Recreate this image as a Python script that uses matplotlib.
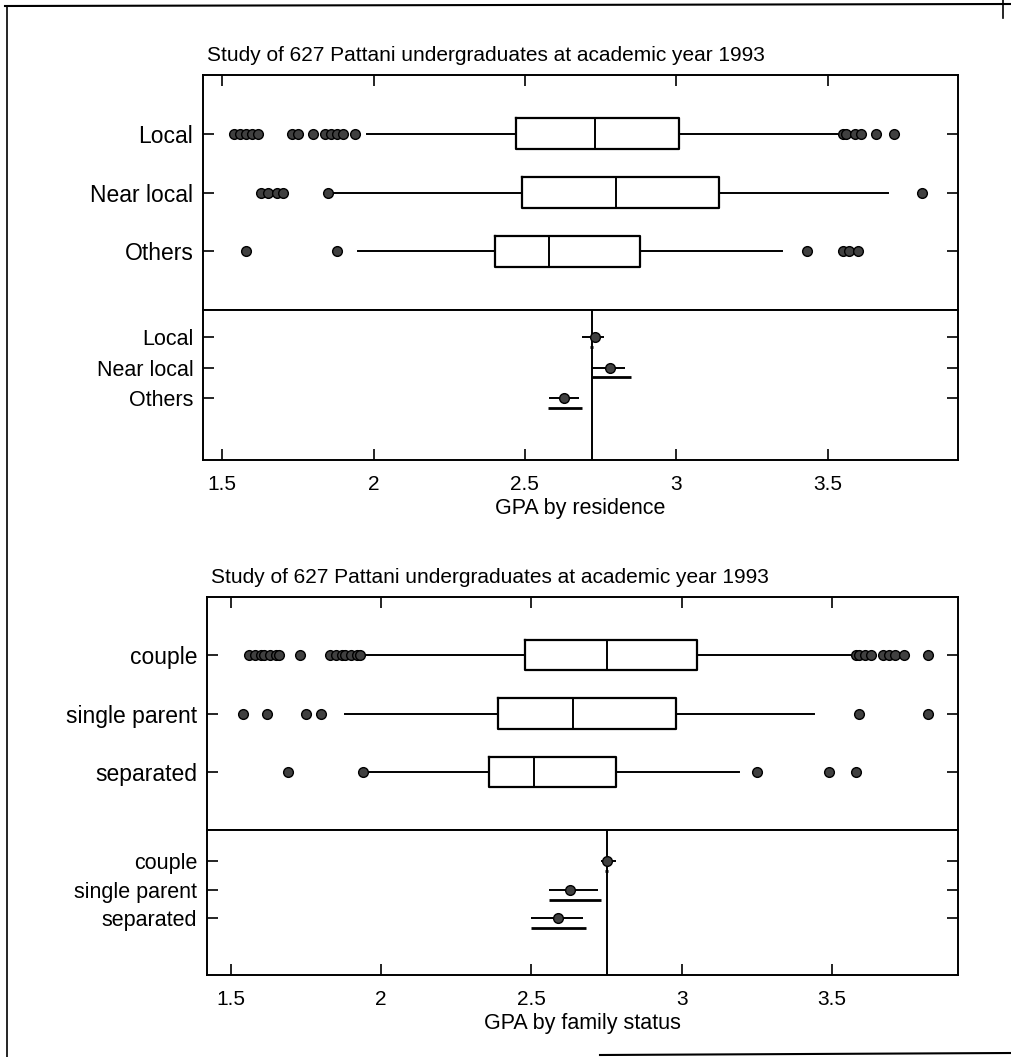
import matplotlib
matplotlib.use('Agg')
import matplotlib.pyplot as plt
from matplotlib.lines import Line2D

plt.rcParams['font.family'] = ['Liberation Sans', 'DejaVu Sans']

W, H = 1011, 1057
title = 'Study of 627 Pattani undergraduates at academic year 1993'

# --- GPA by residence ---
res_groups = ['Local', 'Near local', 'Others']
res_q1 = [2.47, 2.49, 2.40]
res_med = [2.73, 2.80, 2.58]
res_q3 = [3.01, 3.14, 2.88]
res_whislo = [1.98, 1.86, 1.95]
res_whishi = [3.53, 3.70, 3.35]
res_fliers = [
    [1.54, 1.56, 1.58, 1.60, 1.62, 1.73, 1.75, 1.80, 1.84, 1.86, 1.88, 1.90, 1.94,
     3.55, 3.56, 3.59, 3.61, 3.66, 3.72],
    [1.63, 1.65, 1.68, 1.70, 1.85, 3.81],
    [1.58, 1.88, 3.43, 3.55, 3.57, 3.60],
]
res_mean = [2.73, 2.78, 2.63]
res_ci_lo = [2.69, 2.72, 2.58]
res_ci_hi = [2.76, 2.83, 2.68]
res_ci2_lo = [2.715, 2.72, 2.575]
res_ci2_hi = [2.725, 2.85, 2.69]
res_grand = 2.72

# --- GPA by family status ---
fam_groups = ['couple', 'single parent', 'separated']
fam_q1 = [2.48, 2.39, 2.36]
fam_med = [2.75, 2.64, 2.51]
fam_q3 = [3.05, 2.98, 2.78]
fam_whislo = [1.95, 1.88, 1.94]
fam_whishi = [3.56, 3.44, 3.19]
fam_fliers = [
    [1.56, 1.58, 1.60, 1.61, 1.63, 1.65, 1.66, 1.73, 1.83, 1.85, 1.87, 1.88, 1.90,
     1.92, 1.93, 3.58, 3.59, 3.61, 3.63, 3.67, 3.69, 3.71, 3.74, 3.82],
    [1.54, 1.62, 1.75, 1.80, 3.59, 3.82],
    [1.69, 1.94, 3.25, 3.49, 3.58],
]
fam_mean = [2.75, 2.63, 2.59]
fam_ci_lo = [2.73, 2.56, 2.50]
fam_ci_hi = [2.78, 2.72, 2.67]
fam_ci2_lo = [2.745, 2.56, 2.50]
fam_ci2_hi = [2.755, 2.73, 2.68]
fam_grand = 2.75

xticks = [1.5, 2, 2.5, 3, 3.5]
xticklabels = ['1.5', '2', '2.5', '3', '3.5']


def frac(l, t, r, b):
    return [l / W, 1 - b / H, (r - l) / W, (b - t) / H]


def style_ticks(ax, size):
    ax.tick_params(axis='y', which='both', left=True, right=True,
                   direction='in', length=8, width=1.2, labelsize=size, pad=7)
    for s in ax.spines.values():
        s.set_linewidth(1.4)


def panel(box_px, ci_px, groups, q1, med, q3, wlo, whi, fliers,
          mean, cilo, cihi, ci2lo, ci2hi, grand, ci_ylim, off, xlabel, xlim):
    axb = fig.add_axes(frac(*box_px))
    axc = fig.add_axes(frac(*ci_px), sharex=axb)

    stats = []
    for i, g in enumerate(groups):
        stats.append(dict(label=g, q1=q1[i], med=med[i], q3=q3[i],
                          whislo=wlo[i], whishi=whi[i], fliers=fliers[i]))
    axb.bxp(stats, positions=[1, 2, 3], widths=0.52, orientation='horizontal',
            showcaps=False,
            boxprops=dict(color='black', linewidth=1.6),
            medianprops=dict(color='black', linewidth=1.4),
            whiskerprops=dict(color='black', linewidth=1.4),
            flierprops=dict(marker='o', markersize=7, markerfacecolor='0.25',
                            markeredgecolor='black', markeredgewidth=1.0))
    axb.set_ylim(4, 0)
    axb.set_yticks([1, 2, 3])
    axb.set_yticklabels(groups)
    axb.set_xlim(*xlim)
    axb.set_xticks(xticks)
    axb.tick_params(axis='x', top=True, bottom=False, direction='in',
                    length=8, width=1.2, labelbottom=False)
    style_ticks(axb, 16.5)
    axb.set_title(title, loc='left', fontsize=15, pad=10, x=0.005)

    rows = [1, 2, 3]
    axc.axvline(grand, color='black', linewidth=1.4)
    axc.hlines(rows, cilo, cihi, color='black', linewidth=1.4)
    axc.hlines([r + off for r in rows], ci2lo, ci2hi, color='black', linewidth=2.0)
    axc.plot(mean, rows, 'o', markersize=7, markerfacecolor='0.25',
             markeredgecolor='black', markeredgewidth=1.0)
    axc.set_ylim(*ci_ylim)
    axc.set_yticks(rows)
    axc.set_yticklabels(groups)
    axc.set_xticks(xticks)
    axc.set_xticklabels(xticklabels)
    axc.tick_params(axis='x', bottom=True, top=False, direction='in',
                    length=8, width=1.2, labelsize=15, pad=11)
    style_ticks(axc, 15.5)
    axc.set_xlabel(xlabel, fontsize=15.5, labelpad=3)


fig = plt.figure(figsize=(W / 100, H / 100), dpi=100)

panel((203, 75, 958, 310), (203, 310, 958, 460), res_groups, res_q1, res_med,
      res_q3, res_whislo, res_whishi, res_fliers, res_mean, res_ci_lo, res_ci_hi,
      res_ci2_lo, res_ci2_hi, res_grand, (5.03, 0.11), 0.31, 'GPA by residence',
      (1.437, 3.93))
panel((207, 597, 958, 830), (207, 830, 958, 975), fam_groups, fam_q1, fam_med,
      fam_q3, fam_whislo, fam_whishi, fam_fliers, fam_mean, fam_ci_lo, fam_ci_hi,
      fam_ci2_lo, fam_ci2_hi, fam_grand, (5.0, -0.09), 0.35, 'GPA by family status',
      (1.42, 3.92))

# scanned page border
fig.add_artist(Line2D([5 / W, 1], [1 - 6 / H, 1 - 4 / H], color='black', lw=1.5))
fig.add_artist(Line2D([7 / W, 7 / W], [1 - 6 / H, 0], color='black', lw=1.2))
fig.add_artist(Line2D([1003 / W, 1003 / W], [1, 1 - 18 / H], color='black', lw=1.2))
fig.add_artist(Line2D([600 / W, 1], [2 / H, 4 / H], color='black', lw=1.5))

fig.savefig('out.png', dpi=100)
